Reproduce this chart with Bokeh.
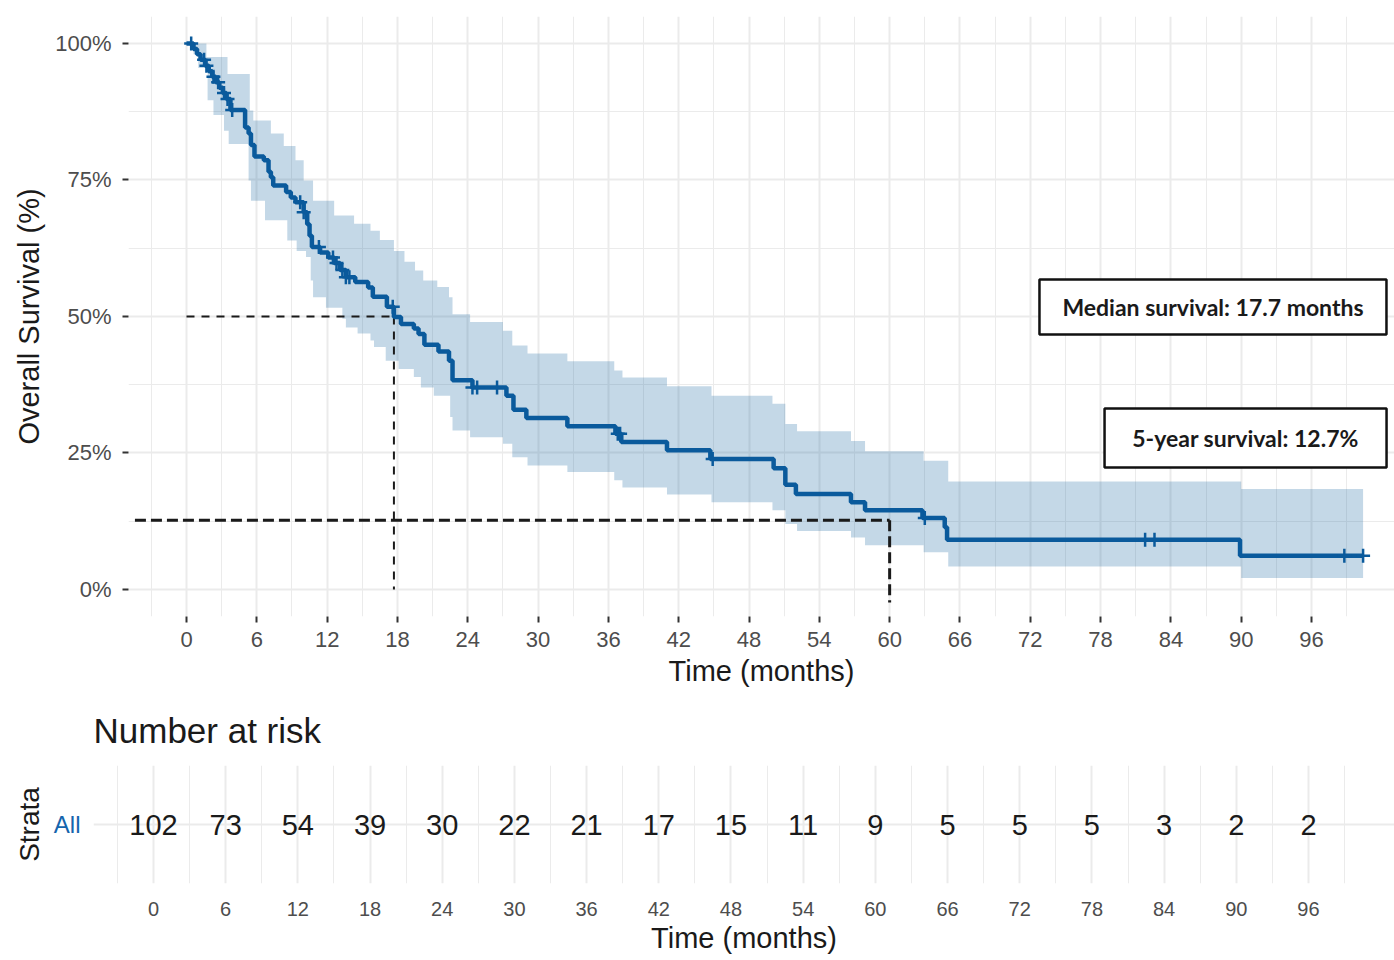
import numpy as np
from bokeh.plotting import figure
from bokeh.models import FixedTicker, FactorRange, Range1d
from bokeh.embed import file_html
from bokeh.resources import INLINE
from bokeh.core.properties import value

# ---------------- data ----------------
km_time = [0.0, 0.6, 0.9, 1.2, 1.6, 1.9, 2.2, 2.5, 2.8, 3.1, 3.4, 3.75, 5.0, 5.3, 5.5, 5.8,
           6.6, 7.0, 7.2, 7.4, 8.5, 8.9, 9.3, 10.0, 10.3, 10.5, 10.7, 11.4, 12.1, 12.6, 13.1,
           13.6, 14.4, 15.5, 15.9, 17.1, 17.7, 18.3, 19.4, 19.8, 20.3, 21.5, 22.4, 22.7, 24.4,
           27.3, 27.9, 29.0, 32.5, 36.6, 37.1, 41.0, 44.7, 50.1, 51.1, 52.0, 56.7, 57.9, 62.8,
           64.7, 64.9, 89.9]
km_surv = [100, 99.0, 98.0, 97.0, 95.9, 94.9, 93.9, 92.9, 91.9, 90.9, 89.8, 87.8, 84.6, 83.5,
           81.4, 79.3, 78.6, 76.5, 75.5, 74.0, 72.8, 71.8, 70.9, 69.1, 66.9, 64.8, 62.7, 61.7,
           60.8, 59.8, 58.5, 57.2, 56.3, 55.3, 53.6, 51.8, 49.9, 48.6, 47.8, 46.8, 44.8, 43.6,
           41.9, 38.3, 37.0, 35.5, 32.9, 31.4, 29.9, 28.5, 27.0, 25.5, 23.9, 22.2, 19.2, 17.5,
           16.0, 14.5, 13.1, 11.4, 9.1, 6.2]
km_end = 100.4

censor_time = [0.4, 1.5, 1.7, 2.3, 2.7, 3.2, 3.5, 3.9, 9.7, 10.0, 11.3, 12.5, 12.8, 13.3,
               13.6, 13.9, 17.6, 24.4, 24.8, 26.5, 36.8, 37.0, 44.9, 63.0, 81.8, 82.6, 98.8, 100.4]

ci_up_time = [0, 1.7, 3.5, 5.4, 5.7, 7.2, 8.3, 9.3, 10.0, 10.8, 12.6, 14.3, 15.7, 16.5, 17.7,
              18.6, 19.5, 20.2, 21.4, 22.4, 22.7, 24.2, 27.0, 27.8, 29.1, 32.5, 36.5, 37.2,
              41.0, 44.8, 50.0, 51.1, 52.1, 56.7, 57.9, 62.9, 65.0, 90.0]
ci_up = [100, 97.5, 94.4, 87.7, 85.9, 83.5, 81.2, 78.6, 74.9, 71.2, 68.5, 67.0, 65.7, 64.0,
         62.0, 60.0, 58.4, 56.6, 55.4, 53.5, 50.4, 49.0, 47.4, 44.7, 43.2, 41.8, 40.1, 38.8,
         37.2, 35.5, 34.0, 30.3, 29.0, 27.2, 25.3, 23.6, 19.8, 18.4]
ci_lo_time = [0, 0.6, 1.0, 1.8, 2.3, 3.2, 3.6, 5.3, 5.5, 6.7, 8.6, 9.4, 10.2, 10.6, 10.8, 11.9,
              13.3, 13.6, 14.6, 15.7, 16.0, 17.0, 18.1, 19.4, 20.0, 21.1, 22.5, 22.7, 24.2,
              27.0, 27.8, 29.1, 32.5, 36.5, 37.2, 41.0, 44.8, 50.0, 51.1, 52.1, 56.7, 57.9,
              62.9, 65.0, 90.0]
ci_lo = [100, 98.0, 95.5, 89.6, 86.9, 84.0, 81.6, 74.9, 71.2, 67.6, 63.9, 62.0, 60.9, 56.6,
         53.5, 51.6, 49.6, 48.0, 46.9, 45.6, 44.4, 41.9, 40.4, 38.9, 37.0, 35.5, 31.6, 29.1,
         27.9, 26.7, 24.2, 22.7, 21.5, 20.0, 18.7, 17.4, 16.0, 14.5, 12.0, 10.7, 9.5, 8.1,
         6.8, 4.2, 2.1]
ci_end = 100.4

median_time = 17.7
median_surv = 50
five_year_time = 60
five_year_surv = 12.7

x_ticks = list(range(0, 97, 6))
x_minor = list(range(-3, 106, 6))
y_ticks = [0, 25, 50, 75, 100]
y_minor = [12.5, 37.5, 62.5, 87.5]
y_tick_labels = ["0%", "25%", "50%", "75%", "100%"]

risk_time = list(range(0, 97, 6))
n_risk = [102, 73, 54, 39, 30, 22, 21, 17, 15, 11, 9, 5, 5, 5, 3, 2, 2]

median_label = "Median survival: 17.7 months"
five_year_label = "5-year survival: 12.7%"
risk_title = "Number at risk"

# ---------------- style ----------------
CURVE = "#0a5a9c"
FONT = "Liberation Sans"
GRID = "#ebebeb"


def step_at(times, vals, t):
    idx = np.searchsorted(np.asarray(times, dtype=float), t, side="right") - 1
    return np.asarray(vals, dtype=float)[idx]


# band as step polygon
union = sorted(set(ci_up_time) | set(ci_lo_time))
bx, blo, bhi = [], [], []
for i, t0 in enumerate(union):
    t1 = union[i + 1] if i + 1 < len(union) else ci_end
    lo = float(step_at(ci_lo_time, ci_lo, t0))
    hi = float(step_at(ci_up_time, ci_up, t0))
    bx += [t0, t1]
    blo += [lo, lo]
    bhi += [hi, hi]

curve_x = km_time + [km_end]
curve_y = km_surv + [km_surv[-1]]
cens_y = [float(step_at(km_time, km_surv, t)) for t in censor_time]

# ---------------- main plot ----------------
p = figure(width=1394, height=690,
           x_range=Range1d(-4.949, 103.08), y_range=Range1d(-4.944, 104.93),
           output_backend="svg", toolbar_location=None,
           min_border_left=128, min_border_right=0, min_border_top=16, min_border_bottom=74)
p.outline_line_color = None
p.background_fill_color = "white"

p.xaxis.ticker = FixedTicker(ticks=x_ticks, minor_ticks=x_minor)
p.yaxis.ticker = FixedTicker(ticks=y_ticks, minor_ticks=y_minor)
p.yaxis.major_label_overrides = {t: lab for t, lab in zip(y_ticks, y_tick_labels)}
p.xaxis.axis_label = "Time (months)"
p.yaxis.axis_label = "Overall Survival (%)"

for ax in (p.xaxis[0], p.yaxis[0]):
    ax.axis_line_color = None
    ax.major_tick_line_color = "#333333"
    ax.major_tick_line_width = 2
    ax.major_tick_out = 6
    ax.major_tick_in = 0
    ax.minor_tick_line_color = None
    ax.major_label_text_font = FONT
    ax.major_label_text_font_size = "22px"
    ax.major_label_text_color = "#4d4d4d"
    ax.axis_label_text_font = FONT
    ax.axis_label_text_font_size = "29px"
    ax.axis_label_text_font_style = "normal"
    ax.axis_label_text_color = "#1a1a1a"
p.xaxis.major_label_standoff = 9
p.xaxis.axis_label_standoff = 5
p.yaxis.major_label_standoff = 11
p.yaxis.axis_label_standoff = 7

p.grid.grid_line_color = GRID
p.grid.grid_line_width = 2
p.grid.minor_grid_line_color = GRID
p.grid.minor_grid_line_width = 1

p.varea(x=bx, y1=blo, y2=bhi, fill_color=CURVE, fill_alpha=0.24)

# reference lines
p.line([0, median_time], [median_surv, median_surv], line_color="#1a1a1a",
       line_width=2, line_dash="8 7")
p.line([median_time, median_time], [median_surv, 0], line_color="#1a1a1a",
       line_width=2, line_dash="8 7")
p.line([-4.4, five_year_time], [five_year_surv, five_year_surv], line_color="#1a1a1a",
       line_width=3, line_dash="11 5")
p.line([five_year_time, five_year_time], [five_year_surv, -2.4], line_color="#1a1a1a",
       line_width=3, line_dash="11 5")

p.step(x=curve_x, y=curve_y, mode="after", line_color=CURVE, line_width=4.5)
p.scatter(x=censor_time, y=cens_y, marker="cross", size=14, line_width=2.5,
          line_color=CURVE)

# annotation boxes
p.rect(x=[87.59], y=[51.73], width=347, height=55, width_units="screen",
       height_units="screen", fill_color="white", line_color="#111111", line_width=2.5)
p.text(x=[87.59], y=[51.73], text=[median_label], text_align="center",
       text_baseline="middle", text_font=value("Lato"), text_font_style="bold",
       text_font_size="23px", text_color="#1a1a1a")
p.rect(x=[90.37], y=[27.74], width=282, height=59, width_units="screen",
       height_units="screen", fill_color="white", line_color="#111111", line_width=2.5)
p.text(x=[90.37], y=[27.74], text=[five_year_label], text_align="center",
       text_baseline="middle", text_font=value("Lato"), text_font_style="bold",
       text_font_size="23px", text_color="#1a1a1a")

# ---------------- risk table ----------------
t = figure(width=1394, height=268,
           x_range=Range1d(-4.987, 103.15), y_range=FactorRange("All"),
           output_backend="svg", toolbar_location=None,
           min_border_left=93, min_border_right=0, min_border_top=75, min_border_bottom=75)
t.outline_line_color = None
t.title.text = risk_title
t.title.text_font = FONT
t.title.text_font_size = "35px"
t.title.text_font_style = "normal"
t.title.text_color = "#1a1a1a"
t.title.align = "left"
t.title.vertical_align = "middle"
t.title.standoff = 30

t.xaxis.ticker = FixedTicker(ticks=x_ticks, minor_ticks=x_minor)
t.xaxis.axis_label = "Time (months)"
t.yaxis.axis_label = "Strata"
for ax in (t.xaxis[0], t.yaxis[0]):
    ax.axis_line_color = None
    ax.major_tick_line_color = None
    ax.major_tick_out = 0
    ax.minor_tick_line_color = None
    ax.major_label_text_font = FONT
    ax.axis_label_text_font = FONT
    ax.axis_label_text_font_style = "normal"
    ax.axis_label_text_color = "#1a1a1a"
t.xaxis.major_label_text_font_size = "20px"
t.xaxis.major_label_text_color = "#4d4d4d"
t.xaxis.major_label_standoff = 14
t.xaxis.axis_label_text_font_size = "29px"
t.xaxis.axis_label_standoff = 3
t.yaxis.major_label_text_font_size = "24px"
t.yaxis.major_label_text_color = "#1565ad"
t.yaxis.major_label_standoff = 13
t.yaxis.axis_label_text_font_size = "28px"
t.yaxis.axis_label_standoff = 6

t.grid.grid_line_color = GRID
t.grid.grid_line_width = 2
t.xgrid.minor_grid_line_color = GRID
t.xgrid.minor_grid_line_width = 1

t.text(x=risk_time, y=["All"] * len(risk_time), text=[str(n) for n in n_risk],
       text_align="center", text_baseline="middle", text_font=value(FONT),
       text_font_size="29px", text_color="#1a1a1a")

open("out.html", "w").write(file_html([p, t], INLINE))
